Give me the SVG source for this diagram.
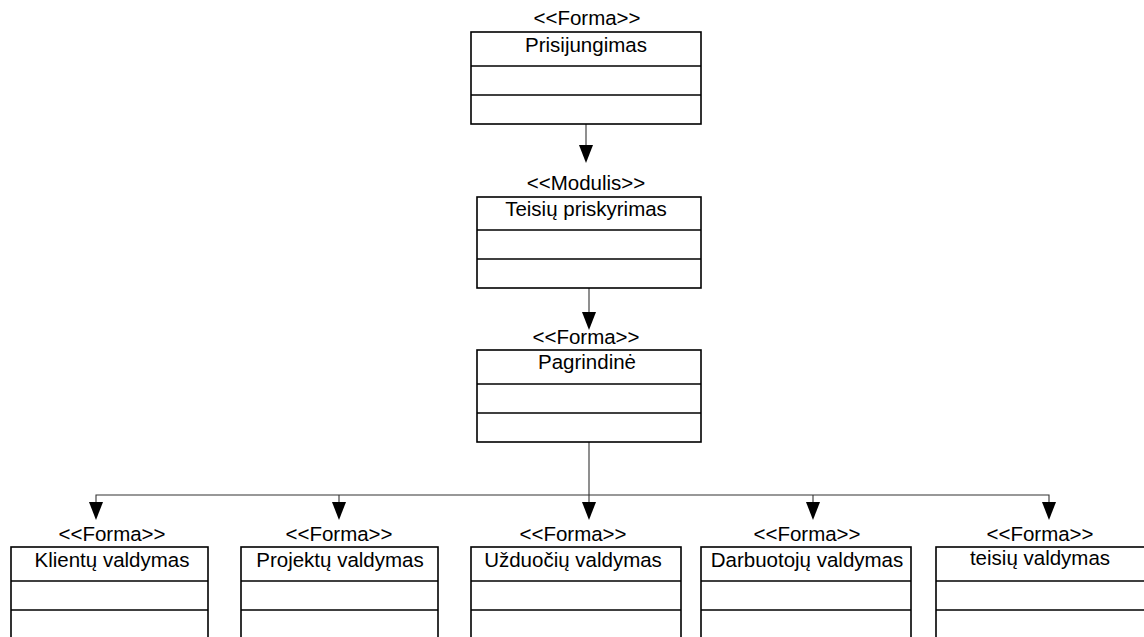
<svg xmlns="http://www.w3.org/2000/svg" width="1144" height="637" viewBox="0 0 1144 637">
  <style>
    .box { fill: #ffffff; stroke: #000000; stroke-width: 1.6; }
    .div { stroke: #000000; stroke-width: 1.6; }
    .txt { font-family: "Liberation Sans", Arial, sans-serif; font-size: 20.5px; fill: #000000; text-anchor: middle; }
    .conn { fill: none; stroke: #333333; stroke-width: 1.1; }
    .head { fill: #000000; stroke: none; }
  </style>
  <rect width="1144" height="637" fill="#ffffff"/>

  <!-- connectors -->
  <g id="connectors">
    <path class="conn" d="M586,124 V148"/>
    <polygon class="head" points="579,145 593,145 586,163"/>
    <path class="conn" d="M589,288 V315"/>
    <polygon class="head" points="582,312 596,312 589,330"/>
    <path class="conn" d="M589,442 V505"/>
    <path class="conn" d="M96,505 V495 H1049 V505"/>
    <path class="conn" d="M339,495 V505"/>
    <path class="conn" d="M813,495 V505"/>
    <polygon class="head" points="89,502 103,502 96,520"/>
    <polygon class="head" points="332,502 346,502 339,520"/>
    <polygon class="head" points="582,502 596,502 589,520"/>
    <polygon class="head" points="806,502 820,502 813,520"/>
    <polygon class="head" points="1042,502 1056,502 1049,520"/>
  </g>

  <g id="prisijungimas">
    <text class="txt" x="587" y="25">&lt;&lt;Forma&gt;&gt;</text>
    <rect class="box" x="471" y="32" width="230" height="92"/>
    <line class="div" x1="471" y1="66" x2="701" y2="66"/>
    <line class="div" x1="471" y1="95" x2="701" y2="95"/>
    <text class="txt" x="586" y="52">Prisijungimas</text>
  </g>

  <g id="teisiu-priskyrimas">
    <text class="txt" x="586" y="190">&lt;&lt;Modulis&gt;&gt;</text>
    <rect class="box" x="477" y="197" width="224" height="91"/>
    <line class="div" x1="477" y1="230" x2="701" y2="230"/>
    <line class="div" x1="477" y1="259" x2="701" y2="259"/>
    <text class="txt" x="586" y="216">Teisių priskyrimas</text>
  </g>

  <g id="pagrindine">
    <text class="txt" x="586" y="344">&lt;&lt;Forma&gt;&gt;</text>
    <rect class="box" x="477" y="350" width="224" height="92"/>
    <line class="div" x1="477" y1="384" x2="701" y2="384"/>
    <line class="div" x1="477" y1="413" x2="701" y2="413"/>
    <text class="txt" x="587" y="369">Pagrindinė</text>
  </g>

  <g id="klientu-valdymas">
    <text class="txt" x="112" y="541">&lt;&lt;Forma&gt;&gt;</text>
    <rect class="box" x="11" y="547" width="197" height="100"/>
    <line class="div" x1="11" y1="581" x2="208" y2="581"/>
    <line class="div" x1="11" y1="610" x2="208" y2="610"/>
    <text class="txt" x="112" y="567">Klientų valdymas</text>
  </g>

  <g id="projektu-valdymas">
    <text class="txt" x="339" y="541">&lt;&lt;Forma&gt;&gt;</text>
    <rect class="box" x="241" y="547" width="197" height="100"/>
    <line class="div" x1="241" y1="581" x2="438" y2="581"/>
    <line class="div" x1="241" y1="610" x2="438" y2="610"/>
    <text class="txt" x="340" y="567">Projektų valdymas</text>
  </g>

  <g id="uzduociu-valdymas">
    <text class="txt" x="573" y="541">&lt;&lt;Forma&gt;&gt;</text>
    <rect class="box" x="471" y="547" width="210" height="100"/>
    <line class="div" x1="471" y1="581" x2="681" y2="581"/>
    <line class="div" x1="471" y1="610" x2="681" y2="610"/>
    <text class="txt" x="573" y="567">Užduočių valdymas</text>
  </g>

  <g id="darbuotoju-valdymas">
    <text class="txt" x="807" y="541">&lt;&lt;Forma&gt;&gt;</text>
    <rect class="box" x="701" y="547" width="210" height="100"/>
    <line class="div" x1="701" y1="581" x2="911" y2="581"/>
    <line class="div" x1="701" y1="610" x2="911" y2="610"/>
    <text class="txt" x="807" y="567">Darbuotojų valdymas</text>
  </g>

  <g id="teisiu-valdymas">
    <text class="txt" x="1040" y="541">&lt;&lt;Forma&gt;&gt;</text>
    <rect class="box" x="936" y="547" width="220" height="100"/>
    <line class="div" x1="936" y1="581" x2="1156" y2="581"/>
    <line class="div" x1="936" y1="610" x2="1156" y2="610"/>
    <text class="txt" x="1040" y="565">teisių valdymas</text>
  </g>
</svg>
